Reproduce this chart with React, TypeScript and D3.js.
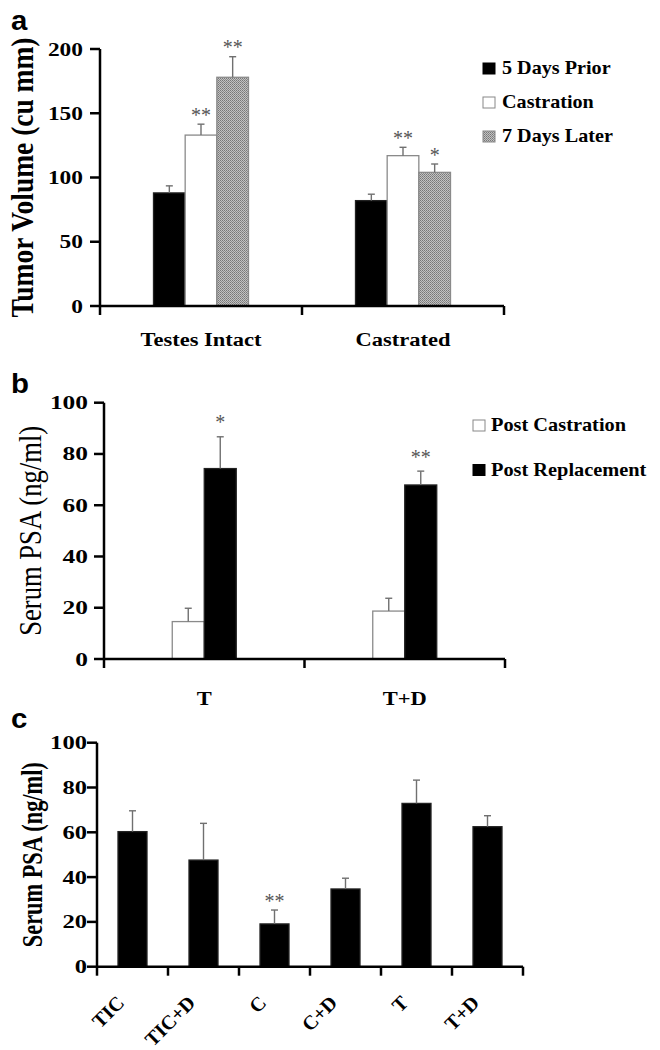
import React from "react";
import * as d3 from "d3";

// ---------- data ----------
const aCategories = ["Testes Intact", "Castrated"];
const aSeries = ["5 Days Prior", "Castration", "7 Days Later"];
const aValues = [
  [88, 133, 178],
  [82, 117, 104],
];
const aErrors = [
  [5.5, 8.5, 16],
  [5, 6.5, 6.5],
];
const aSig = [
  ["", "**", "**"],
  ["", "**", "*"],
];
const aTicks = [0, 50, 100, 150, 200];
const aYLabel = "Tumor Volume (cu mm)";

const bCategories = ["T", "T+D"];
const bSeries = ["Post Castration", "Post Replacement"];
const bValues = [
  [14.6, 74.3],
  [18.7, 67.9],
];
const bErrors = [
  [5.2, 12.4],
  [5.0, 5.4],
];
const bSig = [
  ["", "*"],
  ["", "**"],
];
const bTicks = [0, 20, 40, 60, 80, 100];
const bYLabel = "Serum PSA (ng/ml)";

const cCategories = ["TIC", "TIC+D", "C", "C+D", "T", "T+D"];
const cValues = [60.3, 47.6, 19.1, 34.7, 72.9, 62.5];
const cErrors = [9.3, 16.4, 6.2, 4.8, 10.4, 4.9];
const cSig = ["", "", "**", "", "", ""];
const cTicks = [0, 20, 40, 60, 80, 100];
const cYLabel = "Serum PSA (ng/ml)";

// ---------- style ----------
const SERIF = "'Liberation Serif', 'Times New Roman', serif";
const SANS = "'Liberation Sans', Arial, sans-serif";
const ERR = "#707070";

type TP = {
  x: number;
  y: number;
  sx?: number;
  rot?: number;
  anchor?: string;
  size: number;
  weight?: string | number;
  family?: string;
  fill?: string;
  len?: number;
  children: React.ReactNode;
};
function Txt({ x, y, sx = 1, rot = 0, anchor = "start", size, weight = "bold", family = SERIF, fill = "#000", len, children }: TP) {
  const extra: any = {};
  if (len) {
    extra.textLength = len;
    extra.lengthAdjust = "spacingAndGlyphs";
  }
  return (
    <text
      transform={`translate(${x},${y}) scale(${sx},1) rotate(${rot})`}
      textAnchor={anchor}
      fontSize={size}
      fontWeight={weight}
      fontFamily={family}
      fill={fill}
      {...extra}
    >
      {children}
    </text>
  );
}

function YAxis({ y, ticks, x0, digitW, labelRight }: { y: d3.ScaleLinear<number, number>; ticks: number[]; x0: number; digitW: number; labelRight: number }) {
  const [lo, hi] = y.domain();
  return (
    <g>
      <line x1={x0} x2={x0} y1={y(hi)} y2={y(lo)} stroke="#000" strokeWidth={2.5} />
      {ticks.map((t) => (
        <g key={t}>
          <line x1={x0 - 10} x2={x0} y1={y(t)} y2={y(t)} stroke="#000" strokeWidth={2.5} />
          <Txt x={labelRight} y={y(t) + 6.5} anchor="end" size={18} len={String(t).length * digitW}>
            {t}
          </Txt>
        </g>
      ))}
    </g>
  );
}

function XAxis({ x, y0 }: { x: d3.ScaleBand<string>; y0: number }) {
  const [r0, r1] = x.range();
  const bounds = [r0, ...x.domain().map((d) => (x(d) as number) + x.bandwidth())];
  return (
    <g>
      <line x1={r0 - 1} x2={r1} y1={y0} y2={y0} stroke="#000" strokeWidth={2.5} />
      {bounds.map((b, i) => (
        <line key={i} x1={b} x2={b} y1={y0} y2={y0 + 9} stroke="#000" strokeWidth={2.5} />
      ))}
    </g>
  );
}

function ErrBar({ cx, yTop, yErr }: { cx: number; yTop: number; yErr: number }) {
  return (
    <g stroke={ERR} strokeWidth={1.4}>
      <line x1={cx} x2={cx} y1={yTop} y2={yErr} />
      <line x1={cx - 3.5} x2={cx + 3.5} y1={yErr} y2={yErr} />
    </g>
  );
}

function Sig({ cx, y, s }: { cx: number; y: number; s: string }) {
  if (!s) return null;
  return (
    <Txt x={cx} y={y} anchor="middle" size={20} weight="normal" fill="#555">
      {s}
    </Txt>
  );
}

function Swatch({ x, y, fill, stroke }: { x: number; y: number; fill: string; stroke: string }) {
  return <rect x={x} y={y} width={12} height={11} fill={fill} stroke={stroke} strokeWidth={1} />;
}

export default function App() {
  // ---------- panel a ----------
  const ax = d3.scaleBand<string>().domain(aCategories).range([100, 504]);
  const aGroupW = 95;
  const ax1 = d3
    .scaleBand<string>()
    .domain(aSeries)
    .range([(ax.bandwidth() - aGroupW) / 2, (ax.bandwidth() + aGroupW) / 2]);
  const ay = d3.scaleLinear().domain([0, 200]).range([306, 49]);
  const aFill = ["#000", "#fff", "url(#hatch)"];
  const aStroke = ["#222", "#8a8a8a", "#8a8a8a"];

  // ---------- panel b ----------
  const bx = d3.scaleBand<string>().domain(bCategories).range([104, 505]);
  const bGroupW = 64;
  const bx1 = d3
    .scaleBand<string>()
    .domain(bSeries)
    .range([(bx.bandwidth() - bGroupW) / 2, (bx.bandwidth() + bGroupW) / 2]);
  const by = d3.scaleLinear().domain([0, 100]).range([659, 402.7]);
  const bFill = ["#fff", "#000"];
  const bStroke = ["#8a8a8a", "#222"];

  // ---------- panel c ----------
  const cx = d3.scaleBand<string>().domain(cCategories).range([97, 523]).paddingInner(0).paddingOuter(0);
  const cBarW = 29;
  const cy = d3.scaleLinear().domain([0, 100]).range([966.7, 742.7]);

  return (
    <svg
      width={660}
      height={1050}
      style={{ position: "absolute", left: 0, top: 0, background: "#fff" }}
      xmlns="http://www.w3.org/2000/svg"
    >
      <defs>
        <pattern id="hatch" width={2} height={2} patternUnits="userSpaceOnUse">
          <rect width={2} height={2} fill="#c2c2c2" />
          <rect x={0} y={0} width={1} height={1} fill="#777" />
          <rect x={1} y={1} width={1} height={1} fill="#8a8a8a" />
        </pattern>
      </defs>
      <rect width={660} height={1050} fill="#fff" />

      {/* ===== panel a ===== */}
      <Txt x={11} y={30} size={28} family={SANS} sx={1.05}>a</Txt>
      <Txt x={33} y={(ay(0) + ay(200)) / 2} rot={-90} sx={1.3} anchor="middle" size={24} len={280}>
        {aYLabel}
      </Txt>
      {aCategories.map((cat, gi) => (
        <g key={cat} transform={`translate(${ax(cat)},0)`}>
          {aSeries.map((s, si) => {
            const x0 = ax1(s) as number;
            const w = ax1.bandwidth();
            const v = aValues[gi][si];
            const e = aErrors[gi][si];
            return (
              <g key={s}>
                <rect x={x0} y={ay(v)} width={w} height={ay(0) - ay(v)} fill={aFill[si]} stroke={aStroke[si]} strokeWidth={1.3} />
                <ErrBar cx={x0 + w / 2} yTop={ay(v)} yErr={ay(v + e)} />
                <Sig cx={x0 + w / 2} y={ay(v + e) - 2.5} s={aSig[gi][si]} />
              </g>
            );
          })}
          <Txt x={ax.bandwidth() / 2} y={346} sx={1.25} anchor="middle" size={18}>
            {cat}
          </Txt>
        </g>
      ))}
      <XAxis x={ax} y0={306} />
      <YAxis y={ay} ticks={aTicks} x0={100} digitW={11.7} labelRight={83} />
      {aSeries.map((s, i) => (
        <g key={s}>
          <Swatch x={483} y={63 + i * 34} fill={aFill[i]} stroke={i === 0 ? "#000" : "#888"} />
          <Txt x={502} y={74 + i * 34} sx={1.12} size={18}>
            {s}
          </Txt>
        </g>
      ))}

      {/* ===== panel b ===== */}
      <Txt x={11} y={393} size={28} family={SANS} sx={1.05}>b</Txt>
      <Txt x={41} y={(by(0) + by(100)) / 2} rot={-90} sx={1.3} anchor="middle" size={25} weight="normal" len={210}>
        {bYLabel}
      </Txt>
      {bCategories.map((cat, gi) => (
        <g key={cat} transform={`translate(${bx(cat)},0)`}>
          {bSeries.map((s, si) => {
            const x0 = bx1(s) as number;
            const w = bx1.bandwidth();
            const v = bValues[gi][si];
            const e = bErrors[gi][si];
            return (
              <g key={s}>
                <rect x={x0} y={by(v)} width={w} height={by(0) - by(v)} fill={bFill[si]} stroke={bStroke[si]} strokeWidth={1.3} />
                <ErrBar cx={x0 + w / 2} yTop={by(v)} yErr={by(v + e)} />
                <Sig cx={x0 + w / 2} y={by(v + e) - 7.5} s={bSig[gi][si]} />
              </g>
            );
          })}
          <Txt x={bx.bandwidth() / 2} y={705} sx={1.25} anchor="middle" size={18}>
            {cat}
          </Txt>
        </g>
      ))}
      <XAxis x={bx} y0={659} />
      <YAxis y={by} ticks={bTicks} x0={104} digitW={12.7} labelRight={88} />
      {bSeries.map((s, i) => (
        <g key={s}>
          <Swatch x={473} y={420 + i * 44.5} fill={bFill[i]} stroke={i === 0 ? "#888" : "#000"} />
          <Txt x={491} y={431 + i * 44.5} sx={1.1} size={18.5}>
            {s}
          </Txt>
        </g>
      ))}

      {/* ===== panel c ===== */}
      <Txt x={11} y={728} size={28} family={SANS} sx={1.05}>c</Txt>
      <Txt x={42} y={(cy(0) + cy(100)) / 2} rot={-90} sx={1.35} anchor="middle" size={22} len={185}>
        {cYLabel}
      </Txt>
      {cCategories.map((cat, i) => {
        const mid = (cx(cat) as number) + cx.bandwidth() / 2;
        const v = cValues[i];
        const e = cErrors[i];
        return (
          <g key={cat}>
            <rect x={mid - cBarW / 2} y={cy(v)} width={cBarW} height={cy(0) - cy(v)} fill="#000" stroke="#222" strokeWidth={1.3} />
            <ErrBar cx={mid} yTop={cy(v)} yErr={cy(v + e)} />
            <Sig cx={mid} y={cy(v + e) - 2.5} s={cSig[i]} />
            <Txt x={mid - 7} y={1004} sx={1.0} rot={-45} anchor="end" size={20}>
              {cat}
            </Txt>
          </g>
        );
      })}
      <XAxis x={cx} y0={966.7} />
      <YAxis y={cy} ticks={cTicks} x0={97} digitW={12.3} labelRight={87} />
    </svg>
  );
}
